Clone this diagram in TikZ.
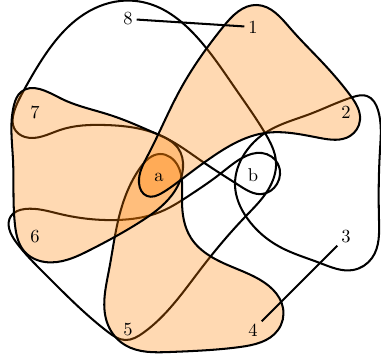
\documentclass[tikz,border=0pt]{standalone}
\usetikzlibrary{hobby}
\begin{document}
\begin{tikzpicture}[x=0.54pt,y=-0.54pt,
  curve/.style={line width=1.1pt, use Hobby shortcut, closed=true},
  petal/.style={curve, fill=orange, fill opacity=0.3, draw opacity=1},
  lbl/.style={inner sep=2pt}]
\useasboundingbox (0,0) rectangle (381,361);
% unfilled curve through 8, 7, b, 6, 5, b
\draw[curve] (265,133) .. (235,88) .. (195,35) .. (150,4) .. (120,1) .. (80,17) .. (45,55) .. (24,90) .. (14,112) .. (14,128) .. (25,137) .. (60,130) .. (105,125) .. (157,134) .. (203,162) .. (240,186) .. (262,194) .. (277,184) .. (278,164) .. (262,153) .. (242,158) .. (220,174) .. (190,195) .. (160,212) .. (117,220) .. (60,214) .. (25,209) .. (11,216) .. (16,242) .. (45,274) .. (108,332) .. (125,340) .. (143,333) .. (200,270) .. (245,217) .. (268,190) .. (276,162);
% unfilled curve through b, 2, 3
\draw[curve] (265,133) .. (245,153) .. (235,185) .. (247,218) .. (280,247) .. (320,263) .. (353,270) .. (372,258) .. (379,220) .. (380,150) .. (378,110) .. (367,96) .. (353,97) .. (310,114);
% filled petal a, 4, 5
\filldraw[petal] (160,154) .. (140,168) .. (120,213) .. (109,270) .. (108,325) .. (125,345) .. (170,352) .. (240,347) .. (278,330) .. (283,308) .. (255,277) .. (210,256) .. (191,238) .. (182,200) .. (178,166);
% filled petal a, 6, 7
\filldraw[petal] (21,92) .. (60,98) .. (110,115) .. (157,134) .. (178,148) .. (183,168) .. (172,195) .. (140,222) .. (90,250) .. (45,262) .. (24,251) .. (15,225) .. (13,160) .. (14,105);
% filled petal a, 1, 2
\filldraw[petal] (147,196) .. (139,183) .. (148,155) .. (180,90) .. (223,27) .. (257,5) .. (290,28) .. (322,62) .. (350,95) .. (360,120) .. (350,136) .. (320,138) .. (265,133) .. (215,155) .. (178,182) .. (162,193);
% labels
\node[lbl] (n1) at (253,27) {1};
\node[lbl] (n2) at (346,112) {2};
\node[lbl] (n3) at (346,237) {3};
\node[lbl] (n4) at (253,330) {4};
\node[lbl] (n5) at (128,330) {5};
\node[lbl] (n6) at (35,237) {6};
\node[lbl] (n7) at (35,112) {7};
\node[lbl] (n8) at (128,19) {8};
\node[lbl] (na) at (159,177) {a};
\node[lbl] (nb) at (253,175) {b};
\draw[line width=1.1pt] (n8) -- (n1);
\draw[line width=1.1pt] (n3) -- (n4);
\end{tikzpicture}
\end{document}
